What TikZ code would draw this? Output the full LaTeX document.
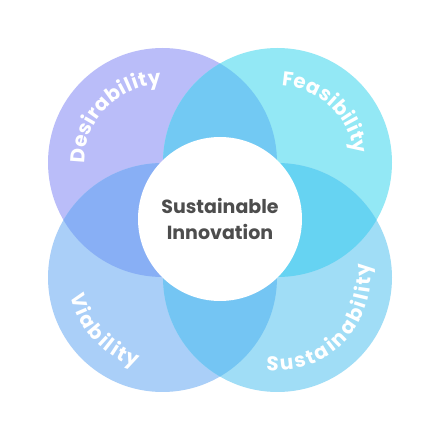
\documentclass[tikz,border=0pt]{standalone}
\usepackage{fontspec}
\setmainfont{Poppins}
\usetikzlibrary{decorations.text}
\definecolor{desc}{HTML}{BABDF9}
\definecolor{feac}{HTML}{93E8F5}
\definecolor{viac}{HTML}{AACFF8}
\definecolor{susc}{HTML}{A0DDF6}
\definecolor{topc}{HTML}{72C9F3}
\definecolor{leftc}{HTML}{88AFF5}
\definecolor{rightc}{HTML}{66D3F2}
\definecolor{botc}{HTML}{74C5F3}
\definecolor{hubtext}{HTML}{4D4D4D}
\newcommand{\labelfont}{\bfseries\fontsize{20}{24}\selectfont}
\tikzstyle{hub}=[circle, fill=white, minimum size=164pt, inner sep=0pt, align=center, text=hubtext, font=\bfseries\fontsize{19}{26}\selectfont]
\tikzstyle{arclabel}=[decorate, decoration={text along path, text align=fit to path, text color=white}]

\begin{document}
\begin{tikzpicture}[x=1pt, y=1pt]
                    \fill[white] (0,0) rectangle (440,440);
                    \useasboundingbox (0,0) rectangle (440,440);
                    \coordinate (des) at (162.5, 277.5);
                    \coordinate (fea) at (277.5, 277.5);
                    \coordinate (via) at (162.5, 162.5);
                    \coordinate (sus) at (277.5, 162.5);
                    \fill[desc] (des) circle (114.5);
                    \fill[feac] (fea) circle (114.5);
                    \fill[viac] (via) circle (114.5);
                    \fill[susc] (sus) circle (114.5);
                    % overlaps
                    \begin{scope}
                        \clip (des) circle (114.5);
                        \fill[topc] (fea) circle (114.5);
                        \fill[leftc] (via) circle (114.5);
                    \end{scope}
                    \begin{scope}
                        \clip (sus) circle (114.5);
                        \fill[rightc] (fea) circle (114.5);
                        \fill[botc] (via) circle (114.5);
                    \end{scope}
                    \node[hub] (hub) at (220, 221) {Sustainable\\Innovation};
                    % labels
                    \path[arclabel, decoration={text={|\labelfont|Desirability}}]
                        (des) ++(181:78) arc[start angle=181, end angle=91, radius=78];
                    \path[arclabel, decoration={text={|\labelfont|Feasibility}}]
                        (fea) ++(87:77) arc[start angle=87, end angle=6, radius=77];
                    \path[arclabel, decoration={text={|\labelfont|Viability}}]
                        (via) ++(191:93) arc[start angle=191, end angle=254, radius=93];
                    \path[arclabel, decoration={text={|\labelfont|Sustainability}}]
                        (sus) ++(263:93) arc[start angle=263, end angle=369, radius=93];
                \end{tikzpicture}
\end{document}
